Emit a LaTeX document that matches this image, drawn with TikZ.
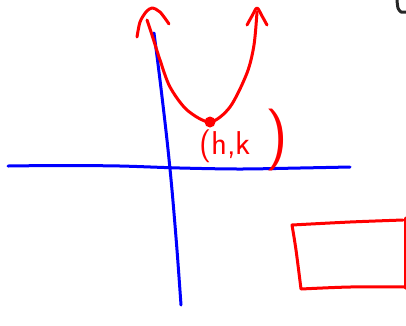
\documentclass[tikz,border=0pt]{standalone}
\begin{document}
\begin{tikzpicture}[x=1pt,y=-1pt,
  redink/.style={draw=red,line width=3pt,line cap=round,line join=round},
  blueink/.style={draw=blue,line width=3pt,line cap=round,line join=round},
  blackink/.style={draw=black!85,line width=3pt,line cap=round,line join=round}]
\useasboundingbox (0,0) rectangle (406,325);
% axes
\draw[blueink] plot[smooth] coordinates {(8,166) (60,165.5) (120,166) (180,168) (240,169) (300,168) (350,167)};
\draw[blueink] plot[smooth] coordinates {(154,33) (160,80) (167,140) (172,190) (177,250) (181,305)};
% parabola
\draw[redink] plot[smooth] coordinates {(147,20) (152,35) (160,60) (170,87) (187,110) (210,122) (230,107) (247,73) (254,45) (257,12)};
\draw[redink] plot[smooth] coordinates {(137,37) (140,22) (146,12) (152,8) (160,12) (169,24)};
\draw[redink] plot[smooth] coordinates {(247,25) (252,16) (257,8) (262,16) (267,25)};
% vertex
\node[circle,fill=red,inner sep=0pt,minimum size=11pt] (v) at (210,122) {};
% label
\node[text=red,anchor=base west,inner sep=0pt] (lbl) at (199,154) {\fontsize{33}{33}\selectfont\sffamily (h,k};
\node[text=red,anchor=west,inner sep=0pt] (paren) at (265,140) {\fontsize{62}{62}\selectfont\sffamily )};
% rectangle
\draw[redink] plot[smooth] coordinates {(403,220) (350,222) (292,225)} -- plot[smooth] coordinates {(292,225) (296,250) (301,289)} -- plot[smooth] coordinates {(301,289) (350,287) (406,287)};
\draw[redink] (405,218) -- (405,288);
% corner mark
\draw[blackink] plot[smooth] coordinates {(397,0) (398,8) (401,12) (406,12)};
\end{tikzpicture}
\end{document}
